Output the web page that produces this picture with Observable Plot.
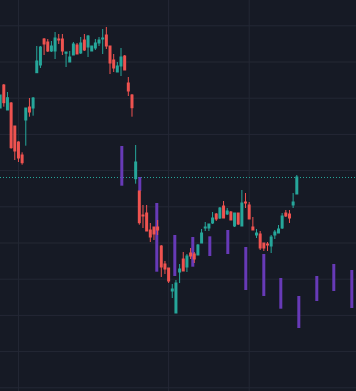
<!DOCTYPE html>
<html>
<head>
<meta charset="utf-8">
<script src="https://cdn.jsdelivr.net/npm/d3@7"></script>
<script src="https://cdn.jsdelivr.net/npm/@observablehq/plot@0.6"></script>
<style>
  html, body { margin: 0; padding: 0; background: #161a25; }
  #chart svg { display: block; }
</style>
</head>
<body>
<div id="chart"></div>
<script>
// Candles: bar index -1 .. 80
const opens = [29.2,31.5,29.0,29.7,27.4,25.8,24.5,28.0,29.3,29.2,32.73,33.5,36.1,35.8,34.9,34.9,36.1,36.1,34.67,33.8,34.5,35.5,34.7,36.0,35.3,34.9,35.2,35.7,36.1,36.5,35.4,34.0,32.8,33.4,34.4,31.7,30.5,22.13,20.9,18.5,18.7,17.0,17.3,17.3,15.4,13.6,13.2,10.9,8.7,12.8,14.1,13.3,14.7,14.6,14.5,15.7,17.2,17.2,17.7,18.6,18.2,19.4,18.6,18.8,17.4,18.7,17.4,19.8,19.5,17.3,16.5,16.6,15.7,15.6,15.4,16.5,16.7,17.2,18.7,18.6,19.5,20.6];
const closes = [30.5,29.73,30.23,25.23,24.9,24.2,23.73,29.2,28.8,30.2,33.9,35.3,35.6,34.9,35.4,36.2,36.0,34.9,34.8,34.3,35.6,34.6,35.7,35.0,36.4,35.4,35.7,36.0,36.2,35.4,33.7,33.2,33.4,34.3,33.0,30.9,29.23,23.8,17.73,18.4,16.9,16.3,16.6,17.0,13.3,13.1,11.9,11.1,11.7,13.1,12.9,14.4,14.4,14.1,15.5,16.7,17.3,17.6,18.2,18.1,19.2,18.2,18.9,18.0,18.7,17.6,19.7,19.7,18.1,17.0,16.7,15.2,15.2,15.5,16.3,16.8,17.1,18.4,18.4,18.2,19.8,22.3];
const highs = [30.5,31.6,30.8,29.8,27.4,25.87,24.77,29.2,30.2,30.3,35.4,35.4,36.2,36.1,35.9,36.8,36.6,36.6,34.8,34.9,35.8,35.7,36.3,36.6,36.5,35.4,36.1,36.3,37.1,37.3,35.4,34.6,33.8,35.2,34.5,32.3,30.6,25.5,20.9,19.5,19.5,17.7,17.3,18.0,15.5,13.9,13.2,11.6,12.0,13.6,14.8,14.6,15.2,14.8,15.6,17.1,17.8,17.6,18.8,18.7,19.3,19.9,19.2,18.9,18.7,18.7,21.0,20.7,19.8,18.3,17.1,16.9,15.7,15.8,16.5,17.0,17.5,18.7,19.0,19.0,20.7,22.5];
const lows = [29.2,29.33,29.0,25.13,24.0,23.8,23.53,25.43,28.33,28.43,32.73,33.2,34.5,34.8,34.8,34.1,35.6,34.5,33.3,33.8,34.5,34.6,34.6,34.9,34.3,34.9,35.0,35.4,34.6,35.1,32.6,32.8,32.8,32.4,33.0,30.4,28.33,21.63,17.53,17.2,16.9,15.8,16.0,16.5,12.3,12.6,11.7,10.2,8.7,11.7,12.9,12.8,14.1,13.7,14.5,15.7,16.9,16.9,17.6,17.9,18.1,18.2,18.5,18.0,17.3,17.5,17.4,19.2,18.1,17.0,16.2,15.0,14.9,14.9,14.7,16.1,16.7,17.1,18.3,17.7,19.2,20.6];
const firstBar = -1;

// Purple range bars (bar position, high, low)
const rangeBars = [32.22,37.13,41.77,46.69,51.60,56.25,61.16,66.07,70.99,75.63,80.55,85.46,90.10,95.02];
const rangeHighs = [25.4,22.3,19.7,16.5,16.3,16.37,17.0,15.3,14.6,12.2,10.4,12.4,13.6,13.0];
const rangeLows = [21.43,20.9,12.83,12.4,13.33,14.4,14.6,11.0,10.4,9.13,7.2,9.9,10.9,9.2];

// Grid positions
const priceGrid = [37.47,33.85,30.23,26.61,22.99,19.37,15.75,12.13,8.51,4.89,1.27];
const timeGrid = [4,45,67];

const UP = "#26a69a", DOWN = "#ef5350", PURPLE = "#673ab7";

const candles = opens.map((o, k) => ({
  i: firstBar + k, open: o, close: closes[k], high: highs[k], low: lows[k]
}));
const ranges = rangeBars.map((t, k) => ({t, hi: rangeHighs[k], lo: rangeLows[k]}));
const last = candles[candles.length - 1].close;

const col = d => d.close >= d.open ? UP : DOWN;

const chart = Plot.plot({
  width: 356,
  height: 391,
  margin: 0,
  style: {background: "#161a25", overflow: "hidden"},
  x: {type: "linear", domain: [-0.901, 96.30], axis: null},
  y: {type: "linear", domain: [0.9, 40], axis: null},
  marks: [
    Plot.ruleY(priceGrid, {stroke: "#242835", strokeWidth: 1}),
    Plot.ruleX(timeGrid, {stroke: "#242835", strokeWidth: 1}),
    Plot.ruleY([last], {stroke: UP, strokeDasharray: "1,2", strokeWidth: 1}),
    Plot.ruleX(ranges, {x: "t", y1: "lo", y2: "hi", stroke: PURPLE, strokeWidth: 3}),
    Plot.ruleX(candles, {x: "i", y1: "low", y2: "high", stroke: col, strokeWidth: 1}),
    Plot.ruleX(candles, {x: "i", y1: d => Math.min(d.open, d.close) - 0.05, y2: d => Math.max(d.open, d.close) + 0.05, stroke: col, strokeWidth: 3})
  ]
});
document.getElementById("chart").appendChild(chart);
</script>
</body>
</html>
